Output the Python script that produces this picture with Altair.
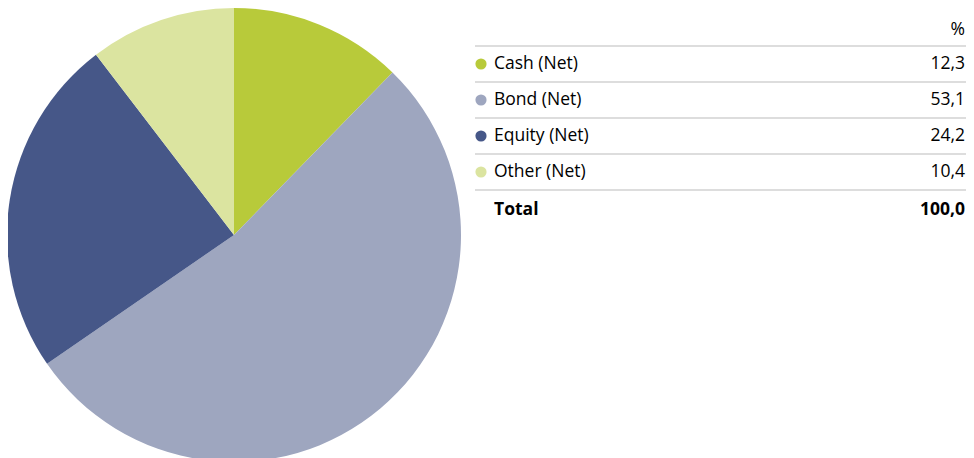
import altair as alt
import pandas as pd

categories = ["Cash (Net)", "Bond (Net)", "Equity (Net)", "Other (Net)"]
values = [12.3, 53.1, 24.2, 10.4]
colors = ["#B8CA3A", "#9EA6BF", "#465788", "#DBE4A0"]
value_labels = ["12,3", "53,1", "24,2", "10,4"]
total_label = "Total"
total_value = "100,0"
header_label = "%"

FONT = "Open Sans"
FS = 17.5
W, H = 958, 454
T0 = 467          # left edge of the table
TR = 957          # right edge for numbers

pie_df = pd.DataFrame({"category": categories, "value": values, "idx": list(range(len(categories)))})
color_scale = alt.Scale(domain=categories, range=colors)

pie = alt.Chart(pie_df).mark_arc(outerRadius=227).encode(
    theta=alt.Theta("value:Q", stack=True),
    color=alt.Color("category:N", scale=color_scale, legend=None),
    order=alt.Order("idx:Q"),
    x=alt.value(226), y=alt.value(227),
)

rows_df = pd.DataFrame({"label": categories, "value_label": value_labels,
                        "row": list(range(1, len(categories) + 1))})
total_df = pd.DataFrame({"label": [total_label], "value_label": [total_value], "row": [len(categories) + 1]})
header_df = pd.DataFrame({"value_label": [header_label], "row": [0]})
lines_df = pd.DataFrame({"row": [r + 0.5 for r in range(len(categories) + 1)]})

yscale = alt.Scale(domain=[0, 5], range=[20, 200])

def Y():
    return alt.Y("row:Q", scale=yscale, axis=None)

rules = alt.Chart(lines_df).mark_rule(color="#dddddd", strokeWidth=2).encode(
    y=Y(), x=alt.value(T0), x2=alt.value(TR + 1))

dots = alt.Chart(rows_df).mark_circle(size=125, opacity=1).encode(
    x=alt.value(T0 + 6), y=Y(),
    color=alt.Color("label:N", scale=color_scale, legend=None))

labels = alt.Chart(rows_df).mark_text(align="left", baseline="middle", font=FONT, fontSize=FS, color="#000000").encode(
    x=alt.value(T0 + 19), y=Y(), text="label:N")

vals = alt.Chart(rows_df).mark_text(align="right", baseline="middle", font=FONT, fontSize=FS, color="#000000").encode(
    x=alt.value(TR), y=Y(), text="value_label:N")

tot_label = alt.Chart(total_df).mark_text(align="left", baseline="middle", font=FONT, fontSize=FS,
                                          fontWeight="bold", color="#000000", dy=2).encode(
    x=alt.value(T0 + 19), y=Y(), text="label:N")

tot_val = alt.Chart(total_df).mark_text(align="right", baseline="middle", font=FONT, fontSize=FS,
                                        fontWeight="bold", color="#000000", dy=2).encode(
    x=alt.value(TR), y=Y(), text="value_label:N")

head = alt.Chart(header_df).mark_text(align="right", baseline="middle", font=FONT, fontSize=FS,
                                      color="#000000", dy=2).encode(
    x=alt.value(TR), y=Y(), text="value_label:N")

chart = alt.layer(pie, rules, dots, labels, vals, tot_label, tot_val, head).resolve_scale(
    color="shared"
).properties(
    width=W, height=H, padding=0, autosize=alt.AutoSizeParams(type="none")
).configure_view(stroke=None)

chart.save("out.html", embed_options={"renderer": "svg", "actions": False})
